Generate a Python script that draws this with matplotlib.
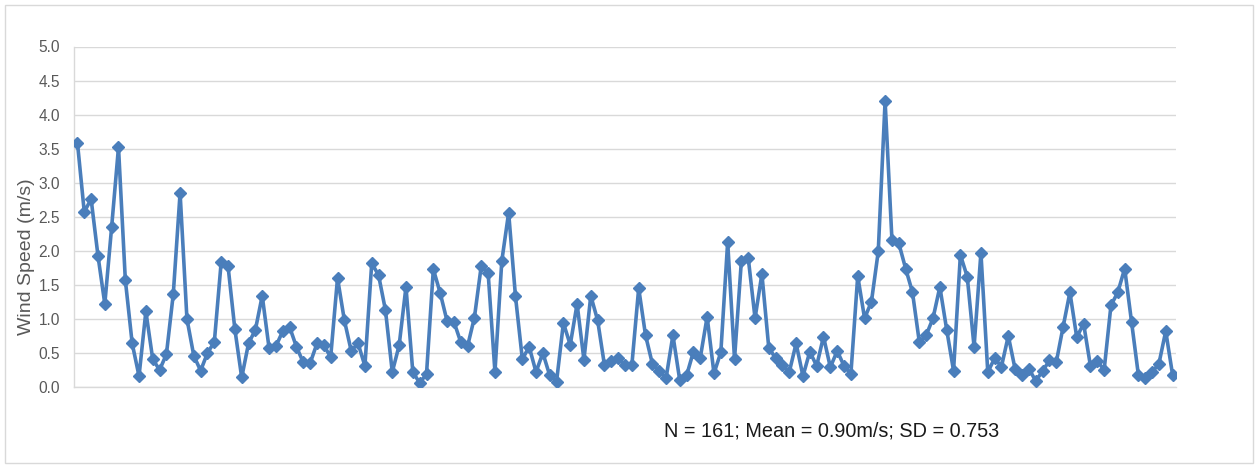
import matplotlib
matplotlib.use("Agg")
import matplotlib.pyplot as plt
from matplotlib.patches import Rectangle

# Wind speed observations (m/s), one value per sample
wind_speed = [
    3.59, 2.57, 2.76, 1.93, 1.22, 2.35, 3.52, 1.57, 0.64, 0.16,
    1.11, 0.41, 0.25, 0.48, 1.36, 2.85, 1.00, 0.46, 0.24, 0.50,
    0.66, 1.83, 1.78, 0.85, 0.14, 0.64, 0.84, 1.34, 0.57, 0.60,
    0.82, 0.88, 0.59, 0.36, 0.35, 0.64, 0.61, 0.44, 1.60, 0.98,
    0.53, 0.64, 0.31, 1.82, 1.64, 1.13, 0.22, 0.61, 1.47, 0.22,
    0.06, 0.19, 1.73, 1.38, 0.97, 0.96, 0.66, 0.60, 1.02, 1.78,
    1.68, 0.22, 1.85, 2.56, 1.33, 0.41, 0.59, 0.22, 0.50, 0.17,
    0.08, 0.94, 0.62, 1.22, 0.40, 1.34, 0.98, 0.32, 0.38, 0.42,
    0.32, 0.32, 1.45, 0.76, 0.34, 0.24, 0.13, 0.76, 0.10, 0.17,
    0.52, 0.43, 1.03, 0.20, 0.51, 2.13, 0.41, 1.85, 1.90, 1.01,
    1.66, 0.58, 0.42, 0.32, 0.22, 0.64, 0.16, 0.52, 0.31, 0.74,
    0.29, 0.53, 0.31, 0.19, 1.63, 1.01, 1.25, 1.99, 4.20, 2.16,
    2.11, 1.74, 1.39, 0.66, 0.76, 1.01, 1.47, 0.84, 0.24, 1.94,
    1.62, 0.59, 1.97, 0.22, 0.42, 0.30, 0.75, 0.26, 0.17, 0.27,
    0.09, 0.23, 0.39, 0.36, 0.88, 1.39, 0.73, 0.93, 0.31, 0.38,
    0.25, 1.20, 1.39, 1.74, 0.96, 0.18, 0.13, 0.22, 0.34, 0.82,
    0.18,
]
sample_index = list(range(1, len(wind_speed) + 1))

y_ticks = [0.0, 0.5, 1.0, 1.5, 2.0, 2.5, 3.0, 3.5, 4.0, 4.5, 5.0]
y_label = "Wind Speed (m/s)"
summary = "N = 161; Mean = 0.90m/s; SD = 0.753"

W, H = 1258, 467
fig = plt.figure(figsize=(W / 100, H / 100), dpi=100)
fig.patch.set_facecolor("white")

# thin grey frame around the whole chart
fig.patches.append(Rectangle((5 / W, 4 / H), (W - 10) / W, (H - 9) / H,
                             transform=fig.transFigure, fill=False,
                             edgecolor="#d9d9d9", linewidth=1.0))

left, right, top, bottom = 74, 1176, 46.5, 387
ax = fig.add_axes([left / W, 1 - bottom / H, (right - left) / W, (bottom - top) / H])

ax.plot(sample_index, wind_speed, color="#4a7ebb", linewidth=2.6,
        marker="D", markersize=5.8, markerfacecolor="#4a7ebb",
        markeredgecolor="#4a7ebb", solid_joinstyle="round", zorder=3)

ax.set_xlim(0.5, len(wind_speed) + 0.5)
ax.set_ylim(0, 5)
ax.set_yticks(y_ticks)
ax.set_yticklabels([f"{t:.1f}" for t in y_ticks], fontsize=11.2,
                   color="#595959", family="Liberation Sans")
ax.set_xticks([])
ax.tick_params(axis="y", length=0, pad=10)

ax.grid(axis="y", color="#d9d9d9", linewidth=1.0)
ax.set_axisbelow(True)
for side in ("top", "right"):
    ax.spines[side].set_visible(False)
ax.spines["left"].set_color("#d9d9d9")
ax.spines["bottom"].set_color("#d9d9d9")
ax.spines["left"].set_linewidth(1.0)
ax.spines["bottom"].set_linewidth(1.0)

# axis title sits a little below the plot's vertical centre
fig.text(27 / W, 1 - 257 / H, y_label, rotation=90, ha="center", va="center",
         fontsize=14, color="#595959", family="Liberation Sans")

fig.text(832 / W, 1 - 431 / H, summary, ha="center", va="center",
         fontsize=14.3, color="#1a1a1a", family="Liberation Sans")

fig.savefig("out.png", dpi=100)
